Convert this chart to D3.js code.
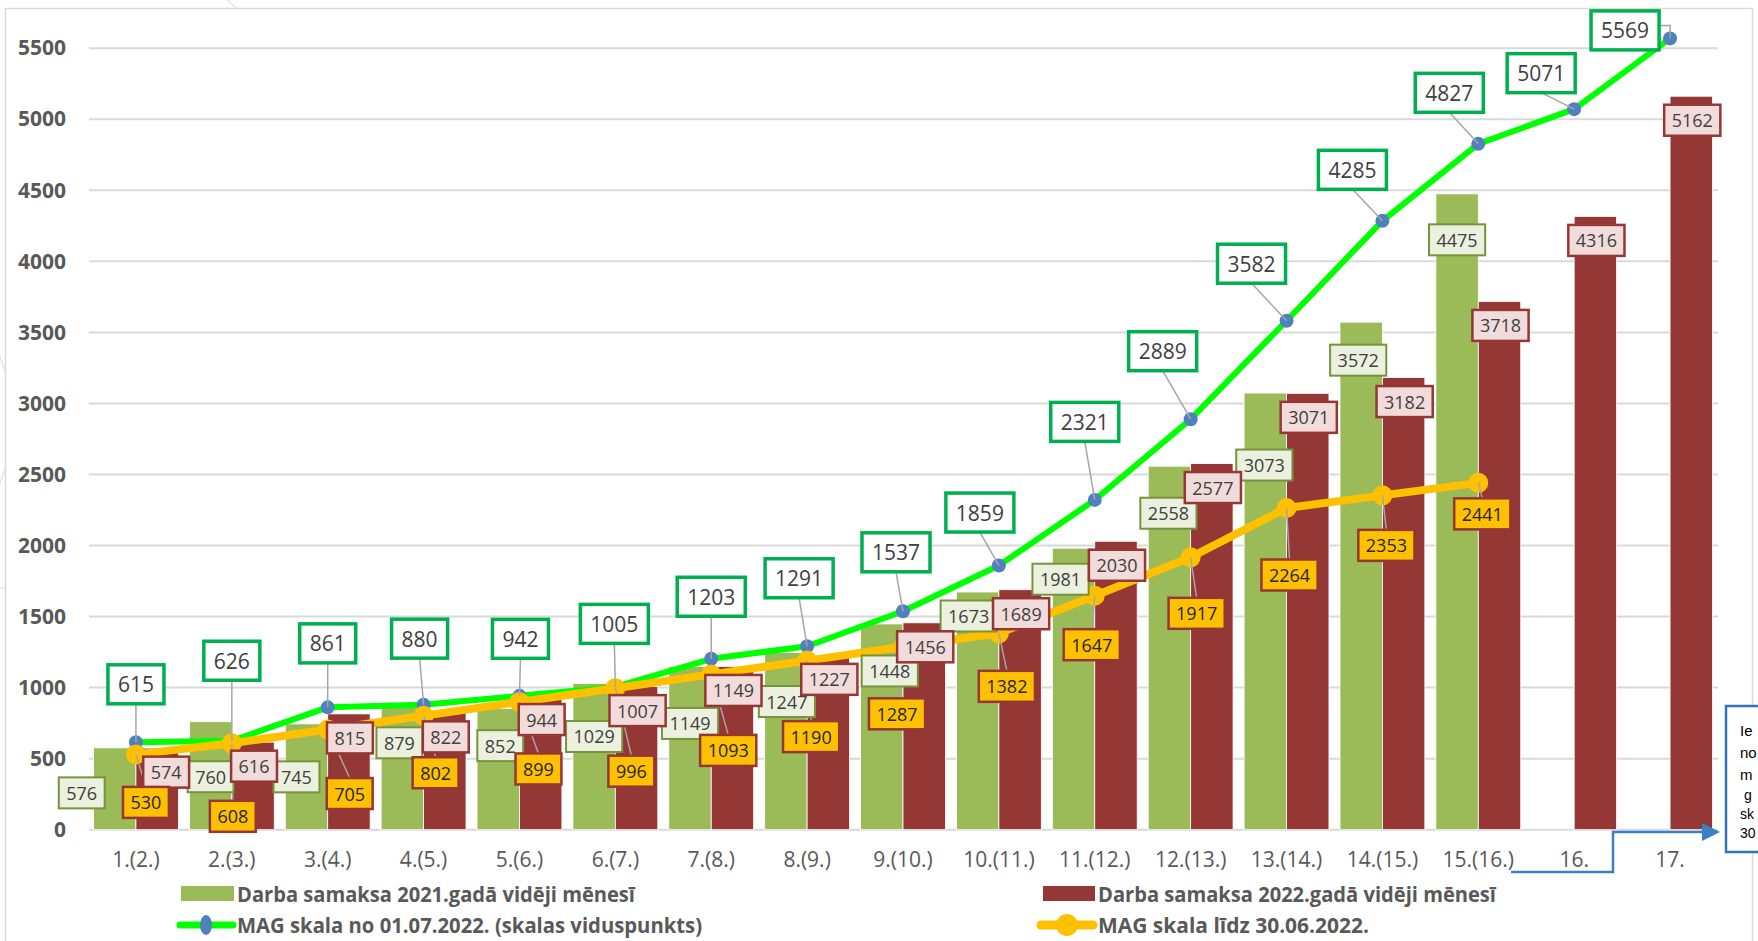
<!DOCTYPE html>
<html>
<head>
<meta charset="utf-8">
<script src="https://cdn.jsdelivr.net/npm/d3@7"></script>
<style>
  body { margin: 0; background: #fff; }
  svg { display: block; font-family: "Open Sans", sans-serif; }
</style>
</head>
<body>
<svg id="chart" width="1758" height="941"></svg>
<script>
// kategorijas (mēnešalgu grupas)
const categories = ["1.(2.)", "2.(3.)", "3.(4.)", "4.(5.)", "5.(6.)", "6.(7.)", "7.(8.)", "8.(9.)",
  "9.(10.)", "10.(11.)", "11.(12.)", "12.(13.)", "13.(14.)", "14.(15.)", "15.(16.)", "16.", "17."];

// Darba samaksa 2021.gadā vidēji mēnesī
const pay2021 = [576, 760, 745, 879, 852, 1029, 1149, 1247, 1448, 1673, 1981, 2558, 3073, 3572, 4475];
// Darba samaksa 2022.gadā vidēji mēnesī
const pay2022 = [574, 616, 815, 822, 944, 1007, 1149, 1227, 1456, 1689, 2030, 2577, 3071, 3182, 3718, 4316, 5162];
// MAG skala no 01.07.2022. (skalas viduspunkts)
const magNew = [615, 626, 861, 880, 942, 1005, 1203, 1291, 1537, 1859, 2321, 2889, 3582, 4285, 4827, 5071, 5569];
// MAG skala līdz 30.06.2022.
const magOld = [530, 608, 705, 802, 899, 996, 1093, 1190, 1287, 1382, 1647, 1917, 2264, 2353, 2441];

const yTicks = [0, 500, 1000, 1500, 2000, 2500, 3000, 3500, 4000, 4500, 5000, 5500];

const legendNames = [
  "Darba samaksa 2021.gadā vidēji mēnesī",
  "Darba samaksa 2022.gadā vidēji mēnesī",
  "MAG skala no 01.07.2022. (skalas viduspunkts)",
  "MAG skala līdz 30.06.2022."
];

// piezīmes lodziņa redzamā daļa (pārējais aiz attēla malas)
const noteLines = ["Ie", "no", "m", " g", "sk", "30"];

// datu etiķešu pārbīdes (px) - kā tās bija pārvietotas oriģinālajā diagrammā
const nudgeMagNew = [[0,-58],[0,-80],[0,-64],[-4,-66],[1,-57],[-1,-63],[0,-62],[-8,-68],[-7,-59],
  [-19,-53],[-10,-78],[-28,-68],[-35,-57],[-30,-51],[-29,-51],[-33,-36],[-45,-8]];
const nudgeMagOld = [[10,48],[1,73],[22,64],[12,57],[19,67],[16,83],[17,76],[4,76],[-6,67],
  [8,53],[-3,49],[6,56],[3,67],[4,50],[4,31]];
const nudge2021 = [[-33,45],[0,55],[-10,53],[-3,38],[2,37],[0,53],[0,57],[1,49],[8,47],
  [-9,24],[-13,31],[-1,47],[-1,72],[-3,38],[0,46]];

const svg = d3.select("#chart");

// fona loki (slaida fons aiz diagrammas)
svg.append("g")
  .attr("fill", "none")
  .attr("stroke", "#e6e6e6")
  .attr("stroke-width", 1.5)
  .selectAll("circle")
  .data([[0, 250, 338], [-160, 420, 172]])
  .enter()
  .append("circle")
  .attr("cx", d => d[0]).attr("cy", d => d[1]).attr("r", d => d[2]);

// diagrammas laukums
svg.append("rect")
  .attr("x", 5.5).attr("y", 8.5)
  .attr("width", 1747).attr("height", 1000)
  .attr("fill", "#fff").attr("stroke", "#d9d9d9").attr("stroke-width", 1.5);

// mērogi
const x = d3.scaleBand()
  .domain(categories)
  .range([88, 1718])
  .paddingInner(0.115)
  .paddingOuter(0.0575);

const xSub = d3.scaleBand()
  .domain(["y2021", "y2022"])
  .range([0, x.bandwidth()]);

const y = d3.scaleLinear()
  .domain([0, 5500])
  .range([829.7, 48.2]);

const cx = i => x(categories[i]) + x.bandwidth() / 2;

// režģa līnijas
svg.append("g")
  .selectAll("line")
  .data(yTicks)
  .enter()
  .append("line")
  .attr("x1", 89).attr("x2", 1718)
  .attr("y1", d => y(d)).attr("y2", d => y(d))
  .attr("stroke", "#d9d9d9")
  .attr("stroke-width", 2);

// Y ass
let yAxis = svg.append("g")
  .attr("transform", "translate(73,0)")
  .call(d3.axisLeft(y).tickValues(yTicks).tickSize(0).tickPadding(7).tickFormat(d3.format("d")));
yAxis.select(".domain").remove();
yAxis.selectAll("text")
  .attr("font-family", "Open Sans, sans-serif")
  .attr("font-size", 21)
  .attr("font-weight", "bold")
  .attr("fill", "#595959");

// X ass
let xAxis = svg.append("g")
  .attr("transform", "translate(0,830)")
  .call(d3.axisBottom(x).tickSize(0).tickPadding(22));
xAxis.select(".domain").remove();
xAxis.selectAll("text")
  .attr("font-family", "Open Sans, sans-serif")
  .attr("font-size", 21)
  .attr("fill", "#595959");

// stabiņi
svg.append("g")
  .selectAll("rect")
  .data(pay2021)
  .enter()
  .append("rect")
  .attr("x", (d, i) => x(categories[i]) + xSub("y2021"))
  .attr("y", d => y(d))
  .attr("width", xSub.bandwidth())
  .attr("height", d => y(0) - y(d))
  .attr("fill", "#9bbb59")
  .attr("stroke", "#fff")
  .attr("stroke-width", 0.8);

svg.append("g")
  .selectAll("rect")
  .data(pay2022)
  .enter()
  .append("rect")
  .attr("x", (d, i) => x(categories[i]) + xSub("y2022"))
  .attr("y", d => y(d))
  .attr("width", xSub.bandwidth())
  .attr("height", d => y(0) - y(d))
  .attr("fill", "#953735")
  .attr("stroke", "#fff")
  .attr("stroke-width", 0.8);

// līnijas
let line = d3.line()
  .x((d, i) => cx(i))
  .y(d => y(d));

svg.append("path")
  .datum(magNew)
  .attr("d", line)
  .attr("fill", "none")
  .attr("stroke", "#00ff00")
  .attr("stroke-width", 6)
  .attr("stroke-linejoin", "round");

svg.append("g")
  .selectAll("circle")
  .data(magNew)
  .enter()
  .append("circle")
  .attr("cx", (d, i) => cx(i))
  .attr("cy", d => y(d))
  .attr("r", 7)
  .attr("fill", "#4f81bd");

svg.append("path")
  .datum(magOld)
  .attr("d", line)
  .attr("fill", "none")
  .attr("stroke", "#ffc000")
  .attr("stroke-width", 8)
  .attr("stroke-linejoin", "round");

svg.append("g")
  .selectAll("circle")
  .data(magOld)
  .enter()
  .append("circle")
  .attr("cx", (d, i) => cx(i))
  .attr("cy", d => y(d))
  .attr("r", 10)
  .attr("fill", "#ffc000");

// etiķetes
let leaderG = svg.append("g");
let labelG = svg.append("g");

function drawLabel(px, py, text, o) {
  let g = labelG.append("g");
  let t = g.append("text")
    .attr("x", px).attr("y", py)
    .attr("text-anchor", "middle")
    .attr("dominant-baseline", "central")
    .attr("font-size", o.size)
    .attr("fill", o.color || "#404040")
    .text(text);
  let w = t.node().getComputedTextLength() + o.pad * 2;
  g.insert("rect", "text")
    .attr("x", px - w / 2).attr("y", py - o.h / 2)
    .attr("width", w).attr("height", o.h)
    .attr("fill", o.fill)
    .attr("stroke", o.stroke)
    .attr("stroke-width", o.sw);
  return o.h;
}

function leader(lx, ly, h, px, py) {
  let ey = py > ly ? ly + h / 2 : ly - h / 2;
  if (Math.hypot(px - lx, py - ey) < 12) return;
  leaderG.append("line")
    .attr("x1", lx).attr("y1", ey)
    .attr("x2", px).attr("y2", py)
    .attr("stroke", "#a6a6a6")
    .attr("stroke-width", 1.5);
}

const boxSmall = { size: 18, pad: 7.5, h: 31 };

pay2021.forEach((d, i) => {
  let bx = x(categories[i]) + xSub("y2021") + xSub.bandwidth() / 2;
  drawLabel(bx + nudge2021[i][0], y(d) + nudge2021[i][1], d,
    Object.assign({ fill: "#ebf1de", stroke: "#77933c", sw: 2 }, boxSmall));
});

pay2022.forEach((d, i) => {
  let bx = x(categories[i]) + xSub("y2022") + xSub.bandwidth() / 2;
  drawLabel(bx + (i === 0 ? 9 : 1), y(d) + 24, d,
    Object.assign({ fill: "#f2dcdb", stroke: "#953735", sw: 2.5 }, boxSmall));
});

magOld.forEach((d, i) => {
  let lx = cx(i) + nudgeMagOld[i][0], ly = y(d) + nudgeMagOld[i][1];
  leader(lx, ly, 31, cx(i), y(d));
  drawLabel(lx, ly, d, Object.assign({ fill: "#ffc000", stroke: "#953735", sw: 2.5, color: "#262626" }, boxSmall));
});

magNew.forEach((d, i) => {
  let lx = cx(i) + nudgeMagNew[i][0], ly = y(d) + nudgeMagNew[i][1];
  if (i === magNew.length - 1) {
    leaderG.append("polyline")
      .attr("points", [[lx + 34, ly - 5], [cx(i), ly - 5], [cx(i), y(d)]].join(" "))
      .attr("fill", "none").attr("stroke", "#a6a6a6").attr("stroke-width", 1.5);
  } else {
    leader(lx, ly, 39, cx(i), y(d));
  }
  drawLabel(lx, ly, d, { size: 21, pad: 10, h: 39, fill: "#fff", stroke: "#00b050", sw: 3.5 });
});

// leģenda
let legend = svg.append("g")
  .attr("font-family", "'Liberation Sans Narrow', 'Open Sans', sans-serif")
  .attr("font-weight", "bold")
  .attr("font-size", 21)
  .attr("fill", "#595959");

legend.append("rect").attr("x", 181).attr("y", 886).attr("width", 53).attr("height", 15).attr("fill", "#9bbb59");
legend.append("rect").attr("x", 1043).attr("y", 886).attr("width", 52).attr("height", 15).attr("fill", "#953735");

legend.append("line").attr("x1", 180).attr("x2", 233).attr("y1", 925).attr("y2", 925)
  .attr("stroke", "#00ff00").attr("stroke-width", 7).attr("stroke-linecap", "round");
legend.append("ellipse").attr("cx", 206).attr("cy", 925).attr("rx", 6).attr("ry", 10).attr("fill", "#4f81bd");
legend.append("line").attr("x1", 1041).attr("x2", 1093).attr("y1", 925).attr("y2", 925)
  .attr("stroke", "#ffc000").attr("stroke-width", 9).attr("stroke-linecap", "round");
legend.append("circle").attr("cx", 1067).attr("cy", 925).attr("r", 11).attr("fill", "#ffc000");

const legendPos = [[237, 894, 398], [1098, 894, 398], [237, 925, 465], [1098, 925, 271]];
legendNames.forEach((n, i) => {
  legend.append("text")
    .attr("x", legendPos[i][0])
    .attr("y", legendPos[i][1])
    .attr("dominant-baseline", "central")
    .attr("textLength", legendPos[i][2])
    .attr("lengthAdjust", "spacingAndGlyphs")
    .text(n);
});

// piezīmes lodziņš ar bultu
svg.append("path")
  .attr("d", "M1511,872 H1613 V832 H1703")
  .attr("fill", "none")
  .attr("stroke", "#3b7fc4")
  .attr("stroke-width", 2.5);
svg.append("polygon")
  .attr("points", "1702,823 1720,832 1702,841")
  .attr("fill", "#3b7fc4");

svg.append("rect")
  .attr("x", 1726).attr("y", 706)
  .attr("width", 120).attr("height", 146)
  .attr("fill", "#fff")
  .attr("stroke", "#2e75b6")
  .attr("stroke-width", 2.5);

svg.append("g")
  .attr("font-family", "'Liberation Sans', Arial, sans-serif")
  .attr("fill", "#000")
  .selectAll("text")
  .data(noteLines)
  .enter()
  .append("text")
  .attr("x", 1740)
  .attr("y", (d, i) => [736, 758, 780, 800, 819, 838][i])
  .attr("font-size", (d, i) => i < 3 ? 15 : 14)
  .attr("xml:space", "preserve")
  .text(d => d);
</script>
</body>
</html>
